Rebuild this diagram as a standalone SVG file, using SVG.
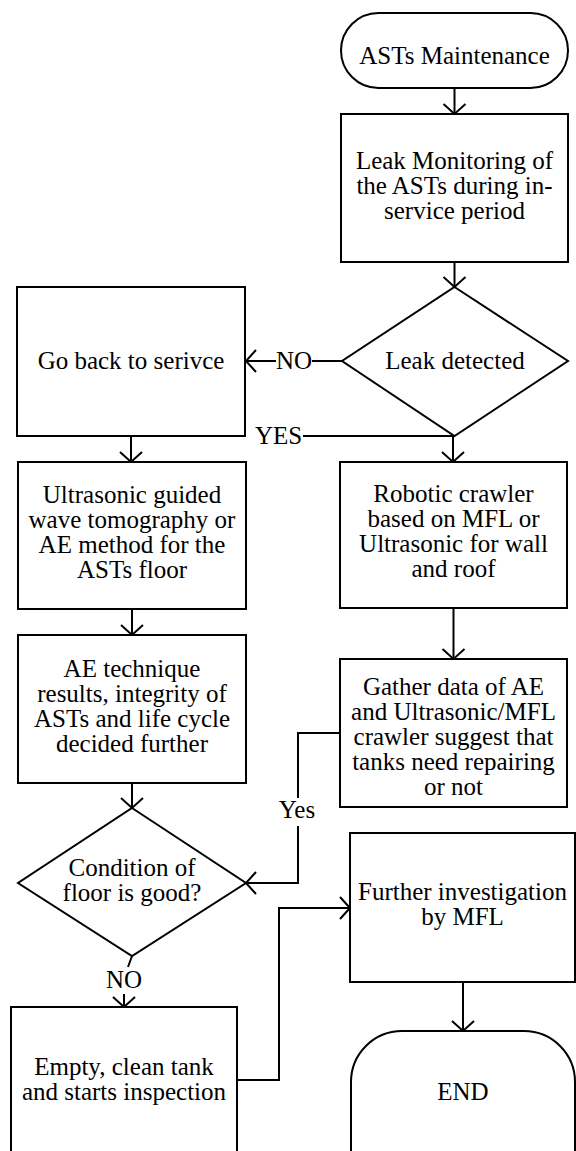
<svg xmlns="http://www.w3.org/2000/svg" width="576" height="1151" viewBox="0 0 576 1151" font-family="'Liberation Serif', 'DejaVu Serif', serif" font-size="25">
<style>
.s{fill:#fff;stroke:#000;stroke-width:2}
.c{fill:none;stroke:#000;stroke-width:2}
text{fill:#000;text-anchor:middle}
</style>
<defs>
<marker id="a" viewBox="-12 -13 14 26" markerWidth="14" markerHeight="26" refX="0" refY="0" orient="auto" markerUnits="userSpaceOnUse">
<path d="M-10,-11 L0,0 L-10,11" fill="none" stroke="#000" stroke-width="2"/>
</marker>
</defs>
<rect width="576" height="1151" fill="#fff"/>
<g id="connectors">
<line class="c" x1="454.5" y1="88" x2="454.5" y2="114" marker-end="url(#a)"/>
<line class="c" x1="454.5" y1="262" x2="454.5" y2="287" marker-end="url(#a)"/>
<line class="c" x1="342" y1="361" x2="312" y2="361"/>
<line class="c" x1="276" y1="361" x2="246" y2="361" marker-end="url(#a)"/>
<text x="294" y="369">NO</text>
<line class="c" x1="453" y1="436" x2="303" y2="436"/>
<text x="278.5" y="444">YES</text>
<line class="c" x1="131" y1="436" x2="131" y2="462" marker-end="url(#a)"/>
<line class="c" x1="453" y1="436" x2="453" y2="462" marker-end="url(#a)"/>
<line class="c" x1="132" y1="609" x2="132" y2="635" marker-end="url(#a)"/>
<line class="c" x1="453.5" y1="608" x2="453.5" y2="659" marker-end="url(#a)"/>
<line class="c" x1="132" y1="783" x2="132" y2="808" marker-end="url(#a)"/>
<polyline class="c" points="340,733 298,733 298,798"/>
<polyline class="c" points="298,826 298,883 246,883" marker-end="url(#a)"/>
<text x="297" y="818">Yes</text>
<line class="c" x1="132" y1="956" x2="128" y2="967"/>
<text x="124" y="988">NO</text>
<line class="c" x1="124" y1="994" x2="124" y2="1007" marker-end="url(#a)"/>
<polyline class="c" points="237,1080 279,1080 279,908 350,908" marker-end="url(#a)"/>
<line class="c" x1="463" y1="982" x2="463" y2="1031" marker-end="url(#a)"/>
</g>
<g id="start">
<rect class="s" x="341" y="13" width="227" height="75" rx="37.5"/>
<text x="454.5" y="64">ASTs Maintenance</text>
</g>
<g id="monitor">
<rect class="s" x="341" y="114" width="227" height="148"/>
<text x="454.5" y="169">Leak Monitoring of</text>
<text x="454.5" y="194">the ASTs during in-</text>
<text x="454.5" y="219">service period</text>
</g>
<g id="leak">
<polygon class="s" points="454.5,287 568,361 454.5,436 342,361"/>
<text x="455" y="369">Leak detected</text>
</g>
<g id="goback">
<rect class="s" x="17" y="287" width="228" height="149"/>
<text x="131" y="369">Go back to serivce</text>
</g>
<g id="ultrasonic">
<rect class="s" x="18" y="462" width="228" height="147"/>
<text x="132" y="503">Ultrasonic guided</text>
<text x="132" y="528">wave tomography or</text>
<text x="132" y="553">AE method for the</text>
<text x="132" y="578">ASTs floor</text>
</g>
<g id="robotic">
<rect class="s" x="340" y="462" width="227" height="146"/>
<text x="453.5" y="502">Robotic crawler</text>
<text x="453.5" y="527">based on MFL or</text>
<text x="453.5" y="552">Ultrasonic for wall</text>
<text x="453.5" y="577">and roof</text>
</g>
<g id="ae">
<rect class="s" x="18" y="635" width="228" height="148"/>
<text x="132" y="677">AE technique</text>
<text x="132" y="702">results, integrity of</text>
<text x="132" y="727">ASTs and life cycle</text>
<text x="132" y="752">decided further</text>
</g>
<g id="gather">
<rect class="s" x="340" y="659" width="227" height="148"/>
<text x="453.5" y="695">Gather data of AE</text>
<text x="453.5" y="720">and Ultrasonic/MFL</text>
<text x="453.5" y="745">crawler suggest that</text>
<text x="453.5" y="770">tanks need repairing</text>
<text x="453.5" y="795">or not</text>
</g>
<g id="condition">
<polygon class="s" points="132,808 246,883 132,956 18,883"/>
<text x="132" y="876">Condition of</text>
<text x="132" y="901">floor is good?</text>
</g>
<g id="empty">
<rect class="s" x="11" y="1007" width="226" height="160"/>
<text x="124" y="1075">Empty, clean tank</text>
<text x="124" y="1100">and starts inspection</text>
</g>
<g id="further">
<rect class="s" x="350" y="833" width="225" height="149"/>
<text x="462.5" y="900">Further investigation</text>
<text x="462.5" y="925">by MFL</text>
</g>
<g id="end">
<rect class="s" x="351" y="1031" width="224" height="170" rx="51"/>
<text x="463" y="1100">END</text>
</g>
</svg>
